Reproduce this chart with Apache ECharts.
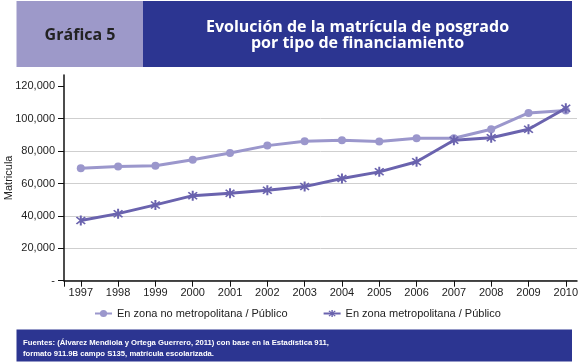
<!DOCTYPE html>
<html>
<head>
<meta charset="utf-8">
<script src="https://cdn.jsdelivr.net/npm/echarts@6/dist/echarts.min.js"></script>
<style>
html,body{margin:0;padding:0;background:#fff;}
#c{width:580px;height:362px;}
</style>
</head>
<body>
<div id="c"></div>
<script>
var years = [1997,1998,1999,2000,2001,2002,2003,2004,2005,2006,2007,2008,2009,2010];
var noMetro = [69400,70500,71000,74700,78800,83400,86100,86700,85900,87900,87900,93500,103600,105100];
var metro = [37200,41400,46800,52500,54000,55800,58100,63100,67200,73400,86700,88300,93500,106500];
var yTicks = [0,20000,40000,60000,80000,100000,120000];
var seriesNames = ['En zona no metropolitana / Público','En zona metropolitana / Público'];
var titleLines = ['Evolución de la matrícula de posgrado','por tipo de financiamiento'];
var tagText = 'Gráfica 5';
var yName = 'Matricula';
var sourceLines = ['Fuentes: (Álvarez Mendiola y Ortega Guerrero, 2011) con base en la Estadística 911,','formato 911.9B campo S135, matrícula escolarizada.'];

var SANS = "'Liberation Sans',Arial,sans-serif";
var asterisk = 'path://M1,2 L2,1 L5,4 L8,1 L9,2 L6,5 L9,8 L8,9 L5,6 L2,9 L1,8 L4,5 Z M4.2,0 L5.8,0 L5.8,10 L4.2,10 Z';

function pairs(vals){ return years.map(function(y,i){ return [y, vals[i]]; }); }

var chart = echarts.init(document.getElementById('c'), null, {renderer:'canvas'});
var xMin = 1996.55, xMax = 2010.3;
chart.setOption({
  animation:false,
  grid:{left:64, right:3, top:75, bottom:81.3, containLabel:false, outerBoundsMode:'none'},
  xAxis:{
    type:'value', min:xMin, max:xMax,
    axisLine:{show:true, lineStyle:{color:'#111', width:1.5}},
    axisTick:{show:true, length:6, inside:false, lineStyle:{color:'#111', width:1}, customValues:[xMin].concat(years)},
    axisLabel:{customValues:years, formatter:function(v){return String(Math.round(v));}, color:'#222', fontFamily:SANS, fontSize:11, margin:7},
    splitLine:{show:false}
  },
  yAxis:{
    type:'value', min:0, max:127000, interval:20000,
    name:yName, nameLocation:'middle', nameGap:50, nameRotate:90, nameMoveOverlap:false,
    nameTextStyle:{color:'#222', fontFamily:SANS, fontSize:11},
    axisLine:{show:true, lineStyle:{color:'#111', width:1.5}},
    axisTick:{show:true, length:6, lineStyle:{color:'#111', width:1}, customValues:yTicks},
    axisLabel:{customValues:yTicks, formatter:function(v){ return v===0 ? '-' : v.toLocaleString('en-US'); }, color:'#222', fontFamily:SANS, fontSize:11, margin:9},
    splitLine:{show:true, showMaxLine:false, lineStyle:{color:'#cfcfcf', width:1}}
  },
  legend:{
    left:89, top:303, itemWidth:17, itemHeight:9, itemGap:35,
    textStyle:{color:'#222', fontFamily:SANS, fontSize:11},
    data:seriesNames
  },
  series:[
    {name:seriesNames[0], type:'line', data:pairs(noMetro), symbol:'circle', symbolSize:8,
     lineStyle:{color:'#9b97cc', width:3}, itemStyle:{color:'#9b97cc'}, z:2},
    {name:seriesNames[1], type:'line', data:pairs(metro), symbol:asterisk, symbolSize:10,
     lineStyle:{color:'#6a63ae', width:3}, itemStyle:{color:'#6a63ae'}, z:3}
  ],
  graphic:[
    {type:'rect', shape:{x:16.5, y:1, width:126.5, height:66}, style:{fill:'#9d99c9'}, silent:true},
    {type:'rect', shape:{x:143, y:1, width:429, height:66}, style:{fill:'#2c3591'}, silent:true},
    {type:'text', x:80, y:35, style:{text:tagText, fill:'#222', font:"bold 16px 'Open Sans', Lato, sans-serif", textAlign:'center', textVerticalAlign:'middle'}},
    {type:'text', x:357.5, y:27, style:{text:titleLines[0], fill:'#fff', font:"bold 16px 'Open Sans', Lato, sans-serif", textAlign:'center', textVerticalAlign:'middle'}},
    {type:'text', x:357.5, y:43.5, style:{text:titleLines[1], fill:'#fff', font:"bold 16px 'Open Sans', Lato, sans-serif", textAlign:'center', textVerticalAlign:'middle'}},
    {type:'rect', shape:{x:16.5, y:329.5, width:555.5, height:32}, style:{fill:'#2c3591'}, silent:true},
    {type:'text', x:23, y:342.5, style:{text:sourceLines[0], fill:'#fff', font:"bold 7.7px 'Liberation Sans',Arial,sans-serif", textAlign:'left', textVerticalAlign:'middle'}},
    {type:'text', x:23, y:353.5, style:{text:sourceLines[1], fill:'#fff', font:"bold 7.7px 'Liberation Sans',Arial,sans-serif", textAlign:'left', textVerticalAlign:'middle'}}
  ]
});
</script>
</body>
</html>
